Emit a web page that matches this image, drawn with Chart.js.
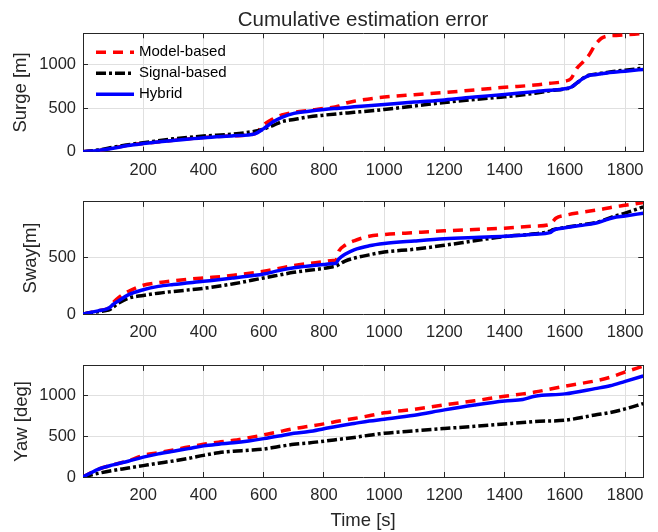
<!DOCTYPE html>
<html><head><meta charset="utf-8">
<script src="https://cdn.jsdelivr.net/npm/chart.js@4.4.1/dist/chart.umd.min.js"></script>
<style>
html,body{margin:0;padding:0;background:#fff;}
#wrap{position:relative;width:658px;height:532px;overflow:hidden;}
canvas{position:absolute;left:0;}
</style></head><body>
<div id="wrap">
<canvas id="c1" width="658" height="180" style="top:0px;width:658px;height:180px"></canvas>
<canvas id="c2" width="658" height="164" style="top:180px;width:658px;height:164px"></canvas>
<canvas id="c3" width="658" height="188" style="top:344px;width:658px;height:188px"></canvas>
</div>
<script>
const seriesNames = ['Model-based', 'Signal-based', 'Hybrid'];
const xTicks = [200, 400, 600, 800, 1000, 1200, 1400, 1600, 1800];
const xMin = 0, xMax = 1860;

const surgeTime   = [0,50,100,150,200,300,400,500,570,600,630,660,700,750,800,850,870,900,1000,1100,1200,1300,1400,1500,1550,1600,1620,1640,1660,1680,1700,1720,1740,1770,1800,1830,1860];
const surgeModel  = [0,15,42,75,95,130,162,183,205,310,375,422,452,475,497,525,555,580,627,655,680,710,740,765,785,810,840,960,1030,1110,1225,1300,1328,1336,1343,1350,1358];
const surgeSignal = [0,20,50,80,103,148,180,203,235,260,300,345,370,400,420,437,443,452,485,525,565,600,630,672,700,722,738,790,845,878,890,900,910,925,937,948,960];
const surgeHybrid = [0,15,40,72,93,128,160,182,205,265,340,395,440,465,485,500,506,515,542,570,595,628,658,690,705,724,740,790,840,875,885,895,905,915,925,935,945];
const surgeTicks  = [0, 500, 1000];

const swayTime   = [0,50,80,90,100,120,150,200,250,300,400,470,500,600,650,700,800,830,840,850,870,900,950,1000,1100,1200,1300,1400,1500,1550,1560,1570,1600,1650,1700,1720,1760,1800,1860];
const swayModel  = [0,28,45,62,100,150,200,255,278,295,320,335,345,380,405,430,465,475,480,560,610,650,690,705,722,738,750,762,780,795,820,850,875,900,920,928,950,965,990];
const swaySignal = [0,20,32,40,60,100,140,165,185,200,228,255,268,320,345,370,405,420,425,440,470,495,525,550,575,610,650,688,712,735,748,755,768,790,810,825,865,895,950];
const swayHybrid = [0,28,45,60,85,120,170,215,245,262,290,310,320,355,385,410,440,448,452,490,530,570,605,625,648,668,680,690,708,722,740,752,765,785,805,820,855,870,895];
const swayTicks  = [0, 500];

const yawTime   = [0,50,100,150,200,250,300,350,400,450,500,550,600,650,700,750,800,850,900,950,1000,1100,1200,1300,1400,1460,1500,1600,1700,1750,1800,1860];
const yawModel  = [0,95,150,200,267,300,333,370,403,430,453,485,519,558,597,625,655,690,721,755,791,835,890,940,996,1025,1047,1120,1185,1230,1295,1367];
const yawSignal = [0,45,81,110,140,170,198,230,267,300,318,330,345,375,403,420,442,465,488,515,539,570,598,625,655,672,685,700,765,795,840,905];
const yawHybrid = [0,95,150,195,245,285,318,350,384,405,422,445,473,505,539,560,595,630,660,690,713,762,828,887,937,955,996,1025,1090,1125,1180,1246];
const yawTicks  = [0, 500, 1000];

const FONT = '"Liberation Sans", Arial, Helvetica, sans-serif';
const AXIS = '#262626';
const GRID = '#e0e0e0';

const innerLegend = {
  id: 'innerLegend',
  afterDatasetsDraw(chart, args, opts) {
    if (!opts.show) return;
    const ctx = chart.ctx, ca = chart.chartArea;
    chart.data.datasets.forEach((ds, i) => {
      const y = ca.top + 19 + i * 21;
      ctx.save();
      ctx.strokeStyle = ds.borderColor;
      ctx.lineWidth = ds.borderWidth;
      ctx.setLineDash(ds.borderDash || []);
      ctx.beginPath();
      ctx.moveTo(ca.left + 13, y);
      ctx.lineTo(ca.left + 51, y);
      ctx.stroke();
      ctx.setLineDash([]);
      ctx.fillStyle = '#000';
      ctx.font = '15px ' + FONT;
      ctx.textBaseline = 'middle';
      ctx.textAlign = 'left';
      ctx.fillText(ds.label, ca.left + 56, y);
      ctx.restore();
    });
  }
};

function pts(t, v) { return t.map((x, i) => ({ x: x, y: v[i] })); }
const plain = (v) => String(v);

function makeChart(id, o) {
  const setTicks = (vals) => (s) => { s.ticks = vals.map(v => ({ value: v })); };
  const ds = [
    { label: seriesNames[0], data: pts(o.time, o.model), borderColor: '#ff0000', borderDash: [10, 7], order: 2 },
    { label: seriesNames[1], data: pts(o.time, o.signal), borderColor: '#000000', borderDash: [10, 3, 3, 3], order: 1 },
    { label: seriesNames[2], data: pts(o.time, o.hybrid), borderColor: '#0000ff', borderDash: [], order: 0 }
  ].map(d => Object.assign(d, { borderWidth: 3.5, pointRadius: 0, fill: false, cubicInterpolationMode: 'monotone', backgroundColor: d.borderColor }));

  return new Chart(document.getElementById(id), {
    type: 'line',
    data: { datasets: ds },
    plugins: [innerLegend],
    options: {
      responsive: false,
      animation: false,
      devicePixelRatio: 1,
      layout: { padding: { top: o.padTop, left: 0, right: 13.7, bottom: 0 } },
      plugins: {
        legend: { display: false },
        tooltip: { enabled: false },
        innerLegend: { show: !!o.legend },
        title: { display: false }
      },
      scales: {
        x: {
          type: 'linear', position: 'bottom', min: xMin, max: xMax,
          afterBuildTicks: setTicks(xTicks),
          afterFit: (s) => { s.height = o.xHeight; },
          grid: { color: GRID, tickColor: AXIS, tickLength: -5, lineWidth: 1, drawOnChartArea: true },
          border: { display: true, color: AXIS, width: 1 },
          ticks: { color: AXIS, font: { family: FONT, size: 16.5 }, padding: 14, maxRotation: 0, autoSkip: false, callback: plain },
          title: o.xTitle ? {
            display: true, text: o.xTitle, color: AXIS,
            font: { family: FONT, size: 18.5, lineHeight: 1.2 },
            padding: { top: 0, bottom: 0 }
          } : { display: false }
        },
        x2: {
          type: 'linear', position: 'top', min: xMin, max: xMax,
          afterBuildTicks: setTicks(xTicks),
          afterFit: (s) => { s.height = o.topHeight; },
          grid: { drawOnChartArea: false, tickColor: AXIS, tickLength: -5 },
          border: { display: true, color: AXIS, width: 1 },
          ticks: { display: false },
          title: o.title ? {
            display: true, text: o.title, color: AXIS,
            font: { family: FONT, size: 20.5, weight: 'normal', lineHeight: 1.2 },
            padding: { top: 7.7, bottom: 0 }
          } : { display: false }
        },
        y: {
          type: 'linear', position: 'left', min: 0, max: o.yMax,
          afterBuildTicks: setTicks(o.yTicks),
          afterFit: (s) => { s.width = 83; },
          grid: { color: GRID, tickColor: AXIS, tickLength: -5, lineWidth: 1 },
          border: { display: true, color: AXIS, width: 1 },
          ticks: { color: AXIS, font: { family: FONT, size: 16.5 }, padding: 12, callback: plain },
          title: {
            display: true, text: o.yTitle, color: AXIS,
            font: { family: FONT, size: 18.5, lineHeight: 1.2 },
            padding: { top: o.yTitlePad, bottom: 0 }
          }
        },
        y2: {
          type: 'linear', position: 'right', min: 0, max: o.yMax,
          afterBuildTicks: setTicks(o.yTicks),
          afterFit: (s) => { s.width = 0; },
          grid: { drawOnChartArea: false, tickColor: AXIS, tickLength: -5 },
          border: { display: true, color: AXIS, width: 1 },
          ticks: { display: false }
        }
      }
    }
  });
}

makeChart('c1', { time: surgeTime, model: surgeModel, signal: surgeSignal, hybrid: surgeHybrid,
  yMax: 1360, yTicks: surgeTicks, yTitle: 'Surge [m]', yTitlePad: 9.9, padTop: 0, topHeight: 33.3, xHeight: 28.3,
  title: 'Cumulative estimation error', legend: true });
makeChart('c2', { time: swayTime, model: swayModel, signal: swaySignal, hybrid: swayHybrid,
  yMax: 995, yTicks: swayTicks, yTitle: 'Sway[m]', yTitlePad: 19.5, padTop: 16.7, topHeight: 0, xHeight: 30 });
makeChart('c3', { time: yawTime, model: yawModel, signal: yawSignal, hybrid: yawHybrid,
  yMax: 1370, yTicks: yawTicks, yTitle: 'Yaw [deg]', yTitlePad: 10.9, padTop: 15.3, topHeight: 0, xHeight: 55,
  xTitle: 'Time [s]' });
</script>
</body></html>
